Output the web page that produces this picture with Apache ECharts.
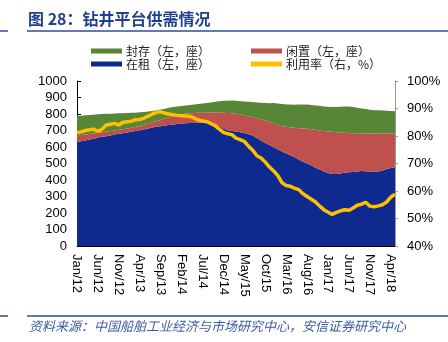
<!DOCTYPE html>
<html><head><meta charset="utf-8">
<script src="https://cdn.jsdelivr.net/npm/echarts@6/dist/echarts.min.js"></script>
<style>html,body{margin:0;padding:0;background:#fff}#c{width:448px;height:342px}</style>
</head><body><div id="c"></div>
<script>
// Monthly categories Jan/12 .. May/18
var monthNames = ['Jan','Feb','Mar','Apr','May','Jun','Jul','Aug','Sep','Oct','Nov','Dec'];
var categories = [];
for (var y = 12; y <= 18; y++) { for (var m = 0; m < 12; m++) { if (y === 18 && m > 4) break; categories.push(monthNames[m] + '/' + y); } }

// 在租（左，座）
var rented = [631,635,640,645,650,658,662,665,670,676,
  680,684,688,692,697,702,706,712,718,722,
  726,730,733,736,739,742,744,745,746,747,
  748,747,744,740,728,710,702,697,694,690,
  685,678,670,655,638,625,612,598,585,573,
  561,550,538,524,511,500,488,475,463,452,
  443,437,437,440,445,447,449,452,455,453,
  451,450,452,458,465,472,477];
// 闲置（左，座）
var idle = [39,38,36,34,32,28,28,29,27,24,
  24,24,24,24,25,26,29,30,32,35,
  39,42,47,52,55,56,58,59,60,60,
  60,61,65,69,80,97,104,107,108,108,
  107,108,110,119,128,135,140,146,150,153,
  161,169,178,190,201,210,219,229,237,245,
  251,255,253,248,241,237,234,231,227,229,
  231,233,230,224,217,211,205];
// 封存（左，座）
var stacked = [118,117,116,115,114,112,110,107,105,103,
  100,97,94,91,86,82,77,73,68,65,
  62,60,58,55,52,51,50,51,52,54,
  56,59,61,65,70,73,75,78,78,80,
  84,88,92,96,102,106,113,122,129,134,
  136,138,140,143,146,147,148,148,150,149,
  150,151,152,156,160,161,159,155,152,148,
  144,140,140,139,138,135,134];
// 利用率（右，%）
var utilization = [81.2,81.5,82.0,82.3,82.5,81.6,82.5,84.0,84.3,84.6,
  84.0,85.0,85.2,85.4,85.9,86.0,86.5,87.2,88.0,88.6,
  88.8,88.3,88.0,87.7,87.5,87.4,87.3,87.1,86.5,85.8,
  85.5,85.2,84.5,83.8,82.5,81.3,80.8,80.5,79.2,78.7,
  78.0,76.3,74.8,72.8,72.0,70.5,68.7,67.3,65.6,63.0,
  62.0,61.7,61.0,60.5,59.0,58.0,57.0,56.0,54.5,53.2,
  52.3,51.5,52.2,52.8,53.2,53.0,53.8,54.8,55.2,55.9,
  54.5,54.3,54.6,55.0,56.0,57.8,58.8];

var names = ['在租（左，座）','闲置（左，座）','封存（左，座）','利用率（右，%）'];
var colors = ['#0E2A8E','#C0504D','#568636','#FFC000'];
var FONT = '"Liberation Sans", Arial, sans-serif';
var CJK = '"Noto Sans CJK SC", sans-serif';

function legendAt(name, left, top) {
  return { data:[name], left:left, top:top, icon:'rect', itemWidth:31, itemHeight:5, itemGap:0,
    padding:0, textStyle:{fontSize:12, color:'#222', fontFamily:CJK, padding:[0,0,0,-1]} };
}

var chart = echarts.init(document.getElementById('c'), null, {renderer:'canvas'});
chart.setOption({
  animation:false,
  color: colors,
  grid:{left:77, right:53, top:81, bottom:96},
  legend:[
    legendAt(names[2], 91, 45),
    legendAt(names[1], 251, 45),
    legendAt(names[0], 91, 58),
    legendAt(names[3], 251, 58)
  ],
  xAxis:{
    type:'category', data:categories, boundaryGap:false,
    axisLine:{lineStyle:{color:'#000', width:1}},
    axisTick:{inside:true, length:4, interval:4, lineStyle:{color:'#000'}},
    axisLabel:{interval:4, rotate:-90, margin:8, fontSize:13, color:'#000', fontFamily:FONT},
    splitLine:{show:false}
  },
  yAxis:[
    {type:'value', min:0, max:1000, interval:100,
     axisLine:{show:true, lineStyle:{color:'#000'}},
     axisTick:{show:true, inside:true, length:4, lineStyle:{color:'#000'}},
     axisLabel:{fontSize:13, color:'#000', margin:10, fontFamily:FONT, formatter:function(v){return String(v);}},
     splitLine:{show:false}},
    {type:'value', min:40, max:100, interval:10, position:'right',
     axisLine:{show:true, lineStyle:{color:'#999'}},
     axisTick:{show:true, length:3, lineStyle:{color:'#999'}},
     axisLabel:{fontSize:13, color:'#000', margin:12, fontFamily:FONT, formatter:'{value}%'},
     splitLine:{show:false}}
  ],
  series:[
    {name:names[0], type:'line', stack:'a', data:rented, symbol:'none', lineStyle:{width:0}, areaStyle:{color:colors[0], opacity:1}, itemStyle:{color:colors[0]}},
    {name:names[1], type:'line', stack:'a', data:idle, symbol:'none', lineStyle:{width:0}, areaStyle:{color:colors[1], opacity:1}, itemStyle:{color:colors[1]}},
    {name:names[2], type:'line', stack:'a', data:stacked, symbol:'none', lineStyle:{width:0}, areaStyle:{color:colors[2], opacity:1}, itemStyle:{color:colors[2]}},
    {name:names[3], type:'line', yAxisIndex:1, data:utilization, symbol:'none', lineStyle:{width:3.5, color:colors[3]}, itemStyle:{color:colors[3]}, z:5}
  ],
  graphic:[
    {type:'text', left:28, top:11, style:{text:'图 28：钻井平台供需情况', fontSize:16, fontWeight:'bold', fill:'#22408F', fontFamily:CJK}},
    {type:'line', shape:{x1:27, y1:31, x2:448, y2:31}, style:{stroke:'#2E4C9B', lineWidth:1.5}},
    {type:'line', shape:{x1:0, y1:31, x2:8, y2:31}, style:{stroke:'#2E4C9B', lineWidth:1.5}},
    {type:'line', shape:{x1:27, y1:316, x2:448, y2:316}, style:{stroke:'#2E4C9B', lineWidth:1.5}},
    {type:'line', shape:{x1:0, y1:316, x2:8, y2:316}, style:{stroke:'#2E4C9B', lineWidth:1.5}},
    {type:'text', left:29, top:320, style:{text:'资料来源：中国船舶工业经济与市场研究中心，安信证券研究中心', fontSize:13, fontStyle:'italic', fill:'#3A5BA8', fontFamily:CJK}}
  ]
});
</script></body></html>
